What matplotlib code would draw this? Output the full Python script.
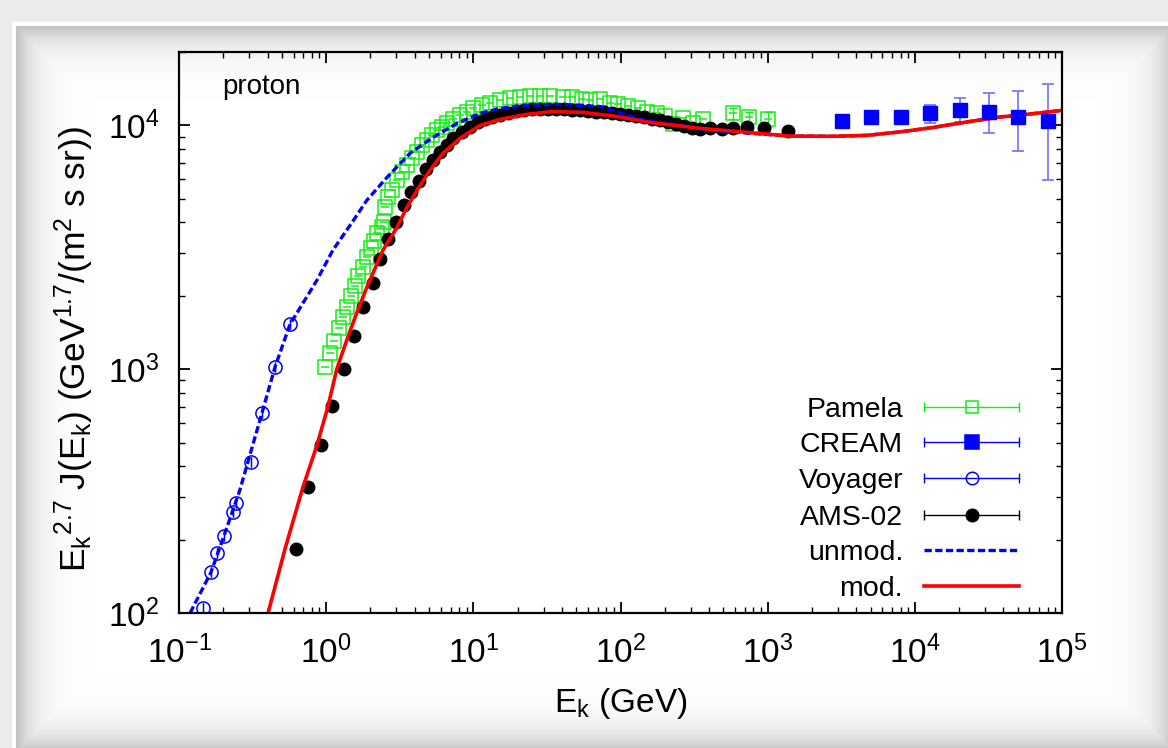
"""Proton spectrum E^2.7 J(E) with Pamela / CREAM / Voyager / AMS-02 data and model curves."""

import matplotlib

matplotlib.use("Agg")
import matplotlib.pyplot as plt
import numpy as np
from matplotlib.path import Path
from matplotlib.ticker import NullFormatter

plt.rcParams["font.family"] = ["Liberation Sans", "DejaVu Sans"]
plt.rcParams["mathtext.fontset"] = "custom"
plt.rcParams["mathtext.rm"] = "Liberation Sans"
plt.rcParams["mathtext.it"] = "Liberation Sans"
plt.rcParams["mathtext.bf"] = "Liberation Sans:bold"

# ---- data (E_k in GeV, flux = E^2.7 J) ----
pamela_e = [0.982, 1.06, 1.13, 1.22, 1.30, 1.38, 1.47, 1.57, 1.64, 1.78, 1.89, 2.01, 2.11, 2.21,
            2.39, 2.47, 2.51, 2.63, 2.80, 3.03, 3.27, 3.54, 3.83, 4.14, 4.48, 4.84, 5.24, 5.66,
            6.12, 6.62, 7.27, 8.11, 9.05, 9.94, 11.4, 13.0, 15.2, 17.7, 20.7, 24.3, 28.3, 33.1,
            40.6, 46.8, 54.7, 62.0, 72.4, 84.7, 96.0, 112, 131, 151, 177, 200, 227, 266, 311,
            363, 581, 745, 1002]
pamela_flux = [1019, 1163, 1302, 1472, 1634, 1795, 1991, 2188, 2404, 2618, 2877, 3133, 3350, 3610,
               3820, 4000, 4610, 5070, 5420, 5960, 6420, 6860, 7330, 7750, 8280, 8680, 9100, 9550,
               9820, 10190, 10580, 11000, 11310, 11740, 12080, 12310, 12660, 12900, 13020, 13150,
               13150, 13150, 13020, 13020, 12790, 12660, 12790, 12310, 12190, 11960, 11740, 11400,
               11200, 10880, 10090, 10690, 10190, 10580, 11200, 10790, 10580]
# only the highest Pamela bins show visible vertical error bars
pamela_err_e = [581, 745, 1002]
pamela_err_flux = [11200, 10790, 10580]
pamela_err = [560, 600, 720]

cream_e = [3190, 5020, 8030, 12650, 20230, 31860, 50120, 80100]
cream_flux = [10470, 10790, 10790, 11200, 11520, 11400, 10790, 10390]
cream_low = [10300, 10600, 10600, 10190, 10290, 9270, 7820, 5960]
cream_high = [10650, 10980, 10980, 12080, 12900, 13520, 13780, 14720]

voyager_e = [0.146, 0.165, 0.181, 0.202, 0.233, 0.244, 0.308, 0.366, 0.449, 0.568]
voyager_flux = [105, 147, 176, 207, 259, 282, 416, 660, 1020, 1528]

ams_e = [0.624, 0.752, 0.922, 1.094, 1.32, 1.545, 1.78, 2.08, 2.32, 2.63, 2.98, 3.38, 3.77, 4.27,
         4.76, 5.32, 5.93, 6.62, 7.27, 8.37, 9.49, 10.7, 12.0, 13.4, 15.2, 17.2, 19.5, 22.1, 25.0,
         28.3, 32.1, 36.4, 41.2, 46.8, 53.0, 60.1, 68.1, 77.1, 87.4, 99.1, 112, 127, 144, 163,
         185, 210, 238, 270, 305, 346, 405, 489, 581, 723, 942, 1371]
ams_flux = [183, 328, 488, 705, 1000, 1365, 1795, 2250, 2822, 3410, 4000, 4700, 5310, 5890,
            6600, 7190, 7750, 8280, 8850, 9360, 9820, 10290, 10580, 10790, 11000, 11200, 11410,
            11520, 11630, 11630, 11630, 11630, 11630, 11520, 11520, 11410, 11300, 11300, 11200,
            11100, 11000, 10890, 10790, 10580, 10480, 10290, 10090, 9910, 9730, 9630, 9730, 9630,
            9730, 9820, 9730, 9450]

unmod_e = [0.119, 0.165, 0.202, 0.259, 0.366, 0.449, 0.568, 0.866, 1.11, 1.50, 1.89, 2.59, 3.71,
           5.32, 7.75, 11.1, 15.2, 23.1, 38.7, 72.4, 136, 253, 386, 1415, 2775, 4720, 7910,
           13240, 22540, 37760, 63400, 99800]
unmod_flux = [100, 147, 207, 319, 660, 1020, 1528, 2318, 3077, 4000, 4930, 6120, 7680, 8930,
              10190, 11200, 11740, 12080, 12190, 11960, 10580, 10000, 9550, 9040, 9020, 9100,
              9400, 9800, 10330, 10820, 11170, 11520]

mod_e = [0.403, 0.525, 0.695, 0.866, 1.03, 1.18, 1.41, 1.64, 1.89, 2.43, 3.03, 3.54, 4.14, 5.07,
         6.21, 8.11, 11.1, 15.2, 23.1, 34.8, 55.6, 94.6, 158, 346, 1415, 2775, 4720, 7910,
         13240, 22540, 37760, 63400, 99800]
mod_flux = [100, 183, 328, 488, 705, 1000, 1365, 1746, 2168, 3077, 3818, 4613, 5418, 6546, 7680,
            8850, 10000, 10580, 11100, 11400, 11310, 10880, 10290, 9730, 9040, 9020, 9100, 9400,
            9800, 10330, 10820, 11170, 11520]

legend_labels = ["Pamela", "CREAM", "Voyager", "AMS-02", "unmod.", "mod."]

GREEN = "#11f011"
BLUE = "#0000ff"
RED = "#ff0000"

W, H = 1168, 748


def marker_box_dash():
    """Open square with a short horizontal bar (gnuplot x-error look)."""
    verts = [(-1, -1), (1, -1), (1, 1), (-1, 1), (-1, -1), (-0.6, 0), (0.6, 0)]
    codes = [Path.MOVETO, Path.LINETO, Path.LINETO, Path.LINETO, Path.CLOSEPOLY,
             Path.MOVETO, Path.LINETO]
    return Path(verts, codes)


def marker_circle_bar():
    """Open circle with a short vertical bar inside."""
    bar = Path([(0, -0.8), (0, 0.8)], [Path.MOVETO, Path.LINETO])
    return Path.make_compound_path(Path.unit_circle(), bar)


def draw_background(fig):
    """Soft grey 'paper' panel behind the plot."""
    bg = fig.add_axes([0, 0, 1, 1], zorder=-10)
    bg.set_axis_off()
    yy, xx = np.mgrid[0:H, 0:W]
    x0, y0, x1, y1 = 14, 24, W + 6, H + 4
    d = np.minimum.reduce([xx - x0, yy - y0, x1 - xx, y1 - yy]).astype(float)
    shade = np.where(d < 0, 0.92, 1.0 - 0.28 * np.exp(-np.clip(d, 0, None) / 18.0))
    bg.imshow(shade, cmap="gray", vmin=0, vmax=1, extent=[0, W, H, 0], aspect="auto")
    bg.plot([x0, W], [y0, y0], color="white", lw=3)
    bg.plot([x0, x0], [y0, H], color="white", lw=3)
    bg.set_xlim(0, W)
    bg.set_ylim(H, 0)


def draw_legend(ax):
    """gnuplot style key: right aligned labels, horizontal error bar samples."""
    rows = [0.367, 0.305, 0.241, 0.175, 0.112, 0.048]
    xa, xb, xm = 0.844, 0.951, 0.898
    styles = [
        dict(color=GREEN, marker="s", mfc="none", ms=9),
        dict(color=BLUE, marker="s", mfc=BLUE, ms=9.5),
        dict(color=BLUE, marker="o", mfc="none", ms=9),
        dict(color="black", marker="o", mfc="black", ms=9),
    ]
    for label, y in zip(legend_labels, rows):
        ax.text(0.820, y - 0.018, label, transform=ax.transAxes, ha="right", va="baseline",
                fontsize=20.5)
    for st, y in zip(styles, rows[:4]):
        ax.plot([xa, xb], [y, y], transform=ax.transAxes, color=st["color"], lw=1.0,
                clip_on=False)
        ax.plot([xa, xb], [y, y], transform=ax.transAxes, ls="none", marker="|", ms=7,
                mew=1.0, color=st["color"], clip_on=False)
        ax.plot([xm], [y], transform=ax.transAxes, ls="none", marker=st["marker"], ms=st["ms"],
                mfc=st["mfc"], mec=st["color"], mew=1.1, clip_on=False)
    ax.plot([xa, xb], [rows[4]] * 2, transform=ax.transAxes, color=BLUE, lw=2.4,
            dashes=(2.2, 1.0), clip_on=False)
    ax.plot([xa, xb], [rows[5]] * 2, transform=ax.transAxes, color=RED, lw=2.6, clip_on=False)


fig = plt.figure(figsize=(W / 100, H / 100), dpi=100)
fig.patch.set_facecolor("#ebebeb")
draw_background(fig)

ax = fig.add_axes([179 / W, 1 - 613 / H, 883 / W, 561 / H])
ax.set_facecolor("none")
ax.set_xscale("log")
ax.set_yscale("log")
ax.set_xlim(0.1, 1e5)
ax.set_ylim(100, 2e4)

# data sets, in gnuplot plot order
ax.errorbar(pamela_err_e, pamela_err_flux, yerr=pamela_err, fmt="none", ecolor=GREEN,
            elinewidth=1.0, capsize=3)
ax.plot(pamela_e, pamela_flux, ls="none", marker=marker_box_dash(), ms=9.5, mfc="none",
        mec=GREEN, mew=1.1)

cream_flux_arr = np.array(cream_flux)
cream_yerr = [cream_flux_arr - np.array(cream_low), np.array(cream_high) - cream_flux_arr]
ax.errorbar(cream_e, cream_flux, yerr=cream_yerr, fmt="s", color=BLUE, ms=9.5,
            ecolor="#6f6fff", elinewidth=1.2, capsize=4, capthick=1.2)

ax.plot(voyager_e, voyager_flux, ls="none", marker=marker_circle_bar(), ms=9.5, mfc="none",
        mec=BLUE, mew=1.1)
ax.plot(ams_e, ams_flux, ls="none", marker="o", color="black", ms=9)

ax.plot(unmod_e, unmod_flux, color=BLUE, lw=2.4, dashes=(2.2, 1.0))
ax.plot(mod_e, mod_flux, color=RED, lw=2.6)

# axes cosmetics
for spine in ax.spines.values():
    spine.set_linewidth(1.6)
ax.tick_params(which="both", direction="in", top=True, right=True)
ax.tick_params(which="major", length=8, width=1.3, labelsize=24)
ax.tick_params(which="minor", length=4.5, width=1.0)
ax.tick_params(axis="x", pad=16)
ax.tick_params(axis="y", pad=14)
ax.yaxis.set_minor_formatter(NullFormatter())
ax.xaxis.set_minor_formatter(NullFormatter())

ax.set_xlabel(r"E$_\mathregular{k}$ (GeV)", fontsize=24)
ax.set_ylabel(r"E$_\mathregular{k}$${}^\mathregular{2.7}$ J(E$_\mathregular{k}$) "
              r"(GeV$^\mathregular{1.7}$/(m$^\mathregular{2}$ s sr))", fontsize=25.5)
ax.xaxis.set_label_coords(0.5, -0.13)
ax.yaxis.set_label_coords(-0.094, 0.47)

ax.text(0.049, 0.925, "proton", transform=ax.transAxes, fontsize=20, va="baseline")
draw_legend(ax)

fig.savefig("out.png", dpi=100, facecolor=fig.get_facecolor())
plt.close(fig)
